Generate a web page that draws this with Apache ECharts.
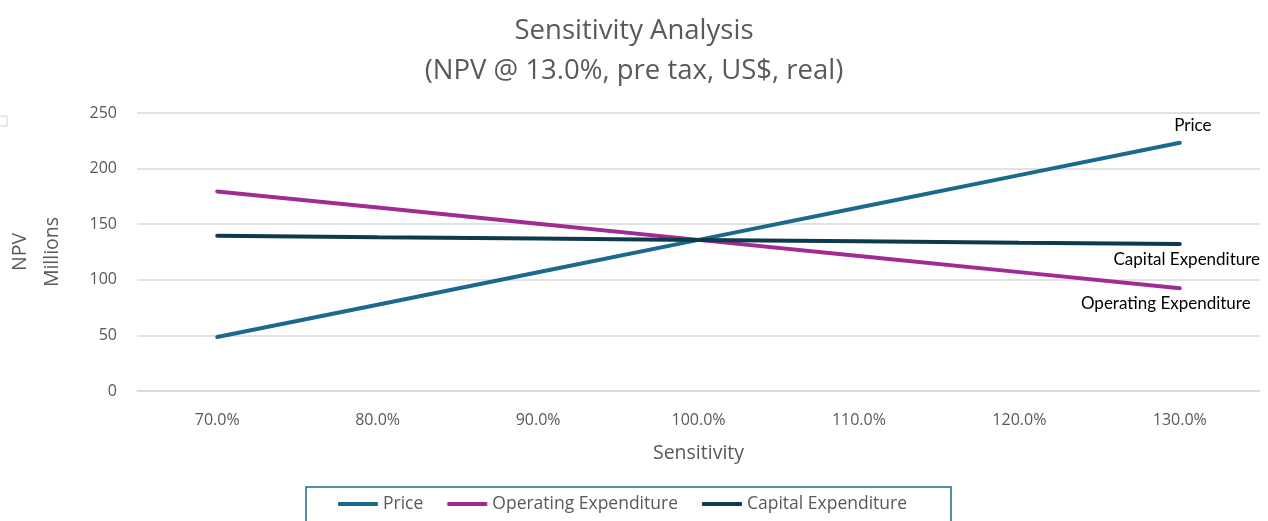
<!DOCTYPE html>
<html>
<head>
<meta charset="utf-8">
<script src="https://cdn.jsdelivr.net/npm/echarts@6/dist/echarts.min.js"></script>
<style>
html, body { margin: 0; padding: 0; background: #fff; }
#chart { width: 1268px; height: 521px; }
</style>
</head>
<body>
<div id="chart"></div>
<script>
var categories = ['70.0%', '80.0%', '90.0%', '100.0%', '110.0%', '120.0%', '130.0%'];
var priceData = [48.5, 77.6, 106.8, 135.9, 165.0, 194.1, 223.2];
var opexData = [179.5, 165.0, 150.5, 135.9, 121.4, 106.9, 92.4];
var capexData = [139.6, 138.3, 137.1, 135.9, 134.7, 133.4, 132.2];

var chartDom = document.getElementById('chart');
var myChart = echarts.init(chartDom, null, { renderer: 'canvas' });
var option;

var txt = '#595959';
var font = '"Open Sans", "DejaVu Sans", sans-serif';

// only the last point of each line carries its name
function lastLabel(name, pos, offset) {
  return {
    show: true,
    position: pos,
    offset: offset,
    color: '#000',
    fontSize: 17,
    fontFamily: 'Lato, "Open Sans", sans-serif',
    formatter: function (p) {
      return p.dataIndex === categories.length - 1 ? name : '';
    }
  };
}

option = {
  animation: false,
  title: {
    left: 'center',
    top: 6,
    text: 'Sensitivity Analysis\n(NPV @ 13.0%, pre tax, US$, real)',
    textStyle: {
      fontSize: 27.5,
      fontWeight: 'normal',
      color: txt,
      fontFamily: font,
      lineHeight: 40
    }
  },
  graphic: [
    {
      type: 'rect',
      shape: { x: -2, y: 116, width: 9, height: 10 },
      style: { fill: 'none', stroke: '#d0d0d0', lineWidth: 1 }
    }
  ],
  legend: {
    left: 306,
    top: 487,
    padding: [8, 44, 24, 32],
    borderColor: '#1b6a8c',
    borderWidth: 1.5,
    itemGap: 24,
    itemWidth: 40,
    itemHeight: 4,
    icon: 'roundRect',
    textStyle: { fontSize: 17.5, color: txt, fontFamily: font },
    data: ['Price', 'Operating Expenditure', 'Capital Expenditure']
  },
  grid: {
    left: 137,
    right: 8,
    top: 113,
    bottom: 130,
    outerBoundsMode: 'none',
    containLabel: false
  },
  xAxis: {
    type: 'category',
    data: categories,
    boundaryGap: true,
    name: 'Sensitivity',
    nameLocation: 'middle',
    nameGap: 52,
    nameTextStyle: { fontSize: 19.5, color: txt, fontFamily: font },
    axisLine: { show: true, lineStyle: { color: '#d9d9d9', width: 1.5 } },
    axisTick: { show: false },
    axisLabel: { fontSize: 16, color: txt, fontFamily: font, margin: 21 }
  },
  yAxis: {
    type: 'value',
    min: 0,
    max: 250,
    interval: 50,
    name: 'NPV\nMillions',
    nameLocation: 'middle',
    nameGap: 69,
    nameRotate: 90,
    nameTextStyle: { fontSize: 19.5, color: txt, fontFamily: font, lineHeight: 32 },
    axisLine: { show: false },
    axisTick: { show: false },
    axisLabel: { fontSize: 16, color: txt, fontFamily: font, margin: 20 },
    splitLine: { lineStyle: { color: '#d9d9d9', width: 1.5 } }
  },
  series: [
    {
      name: 'Price',
      type: 'line',
      data: priceData,
      symbol: 'circle',
      symbolSize: 0.01,
      showAllSymbol: true,
      lineStyle: { width: 4, color: '#1b6a8c', cap: 'round' },
      itemStyle: { color: '#1b6a8c' },
      label: lastLabel('Price', 'top', [13, -4])
    },
    {
      name: 'Operating Expenditure',
      type: 'line',
      data: opexData,
      symbol: 'circle',
      symbolSize: 0.01,
      showAllSymbol: true,
      lineStyle: { width: 4, color: '#a02b93', cap: 'round' },
      itemStyle: { color: '#a02b93' },
      label: lastLabel('Operating Expenditure', 'bottom', [-14, 2])
    },
    {
      name: 'Capital Expenditure',
      type: 'line',
      data: capexData,
      symbol: 'circle',
      symbolSize: 0.01,
      showAllSymbol: true,
      lineStyle: { width: 4, color: '#0e3a4e', cap: 'round' },
      itemStyle: { color: '#0e3a4e' },
      label: lastLabel('Capital Expenditure', 'bottom', [7, 2])
    }
  ]
};

option && myChart.setOption(option);
</script>
</body>
</html>
